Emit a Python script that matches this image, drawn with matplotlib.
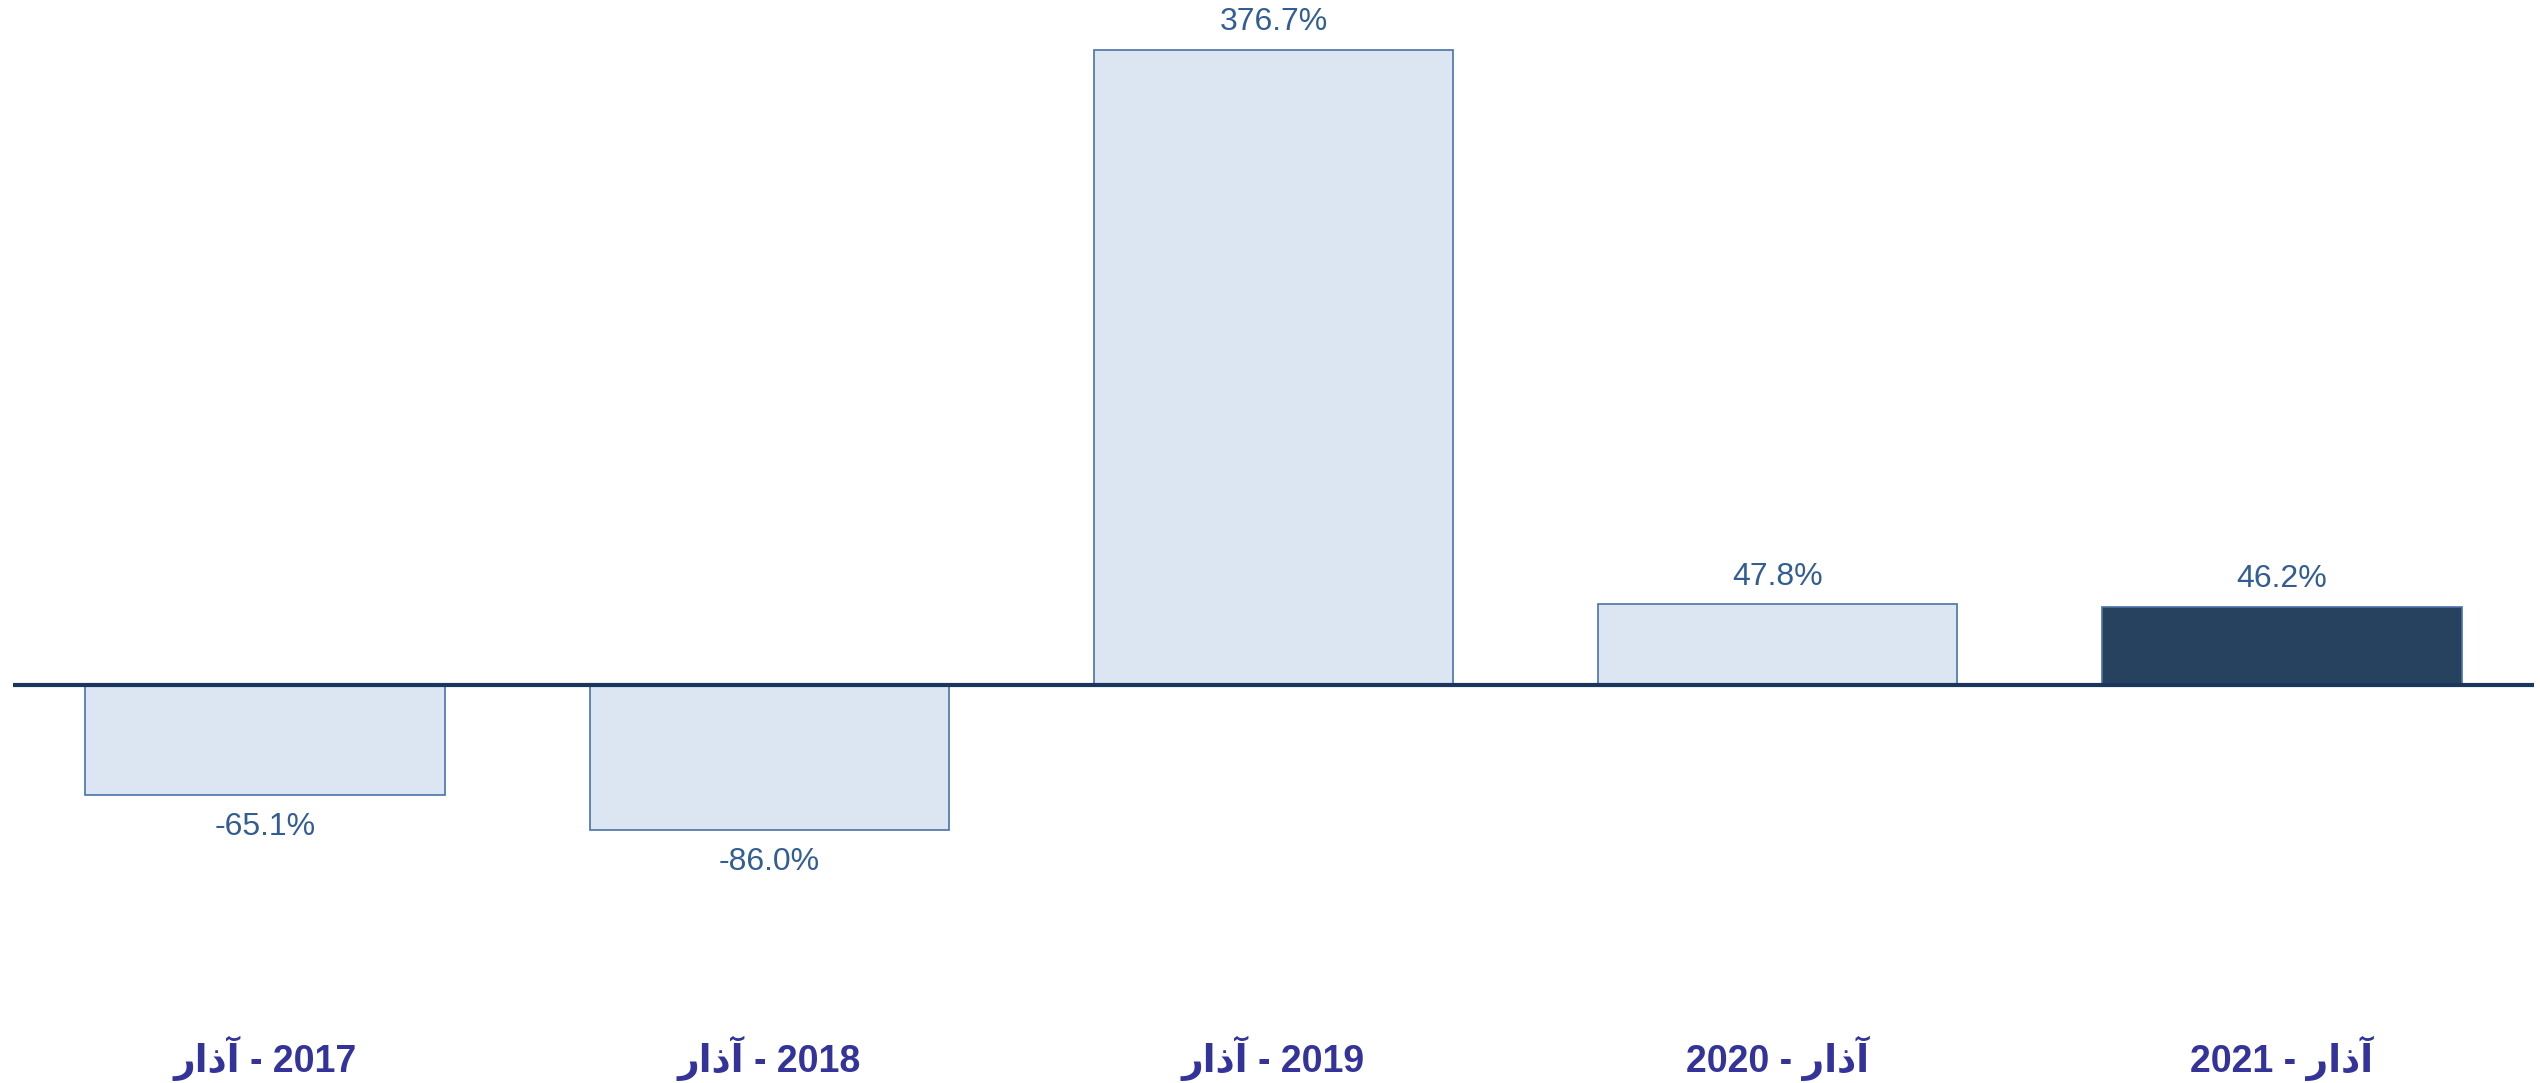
import matplotlib
matplotlib.use("Agg")
import matplotlib.pyplot as plt
from matplotlib.transforms import blended_transform_factory

plt.rcParams['font.family'] = ['Liberation Sans', 'DejaVu Sans']

# data
years = ['2017', '2018', '2019', '2020', '2021']
month = 'آذار'
values = [-65.1, -86.0, 376.7, 47.8, 46.2]
value_labels = ['-65.1%', '-86.0%', '376.7%', '47.8%', '46.2%']
year_first = [False, False, False, True, True]

light = '#DCE6F2'
edge = '#4A72A8'
dark = '#27425F'
txt_blue = '#335E94'
lbl_color = '#333399'

# matplotlib has no bidi, so the word is written in display order (all isolated forms)
month_vis = month[::-1]

fig = plt.figure(figsize=(25.4, 10.83), dpi=100)
ax = fig.add_axes([13 / 2540, 1 - 853.6 / 1083, 2521 / 2540, 843 / 1083])

x = list(range(len(values)))
colors = [light] * (len(values) - 1) + [dark]
ax.bar(x, values, width=0.713, color=colors, edgecolor=edge, linewidth=1.2, zorder=2)
ax.axhline(0, color='#1B365D', linewidth=3, zorder=3)

for i, (v, s) in enumerate(zip(values, value_labels)):
    off = 20 if v >= 0 else -23
    ax.annotate(s, (i, v), xytext=(0, off), textcoords='offset points',
                ha='center', va='center', fontsize=23, color=txt_blue)

ax.set_xlim(-0.5, 4.5)
ax.set_ylim(-100, 400)
ax.axis('off')

trans = blended_transform_factory(ax.transData, fig.transFigure)
for i, y in enumerate(years):
    lab = f'{y} - {month_vis}' if year_first[i] else f'{month_vis} - {y}'
    ax.text(i, 1 - 1058 / 1083, lab, transform=trans, ha='center', va='center',
            fontsize=27, fontweight='bold', color=lbl_color)

fig.savefig('out.png', dpi=100)
